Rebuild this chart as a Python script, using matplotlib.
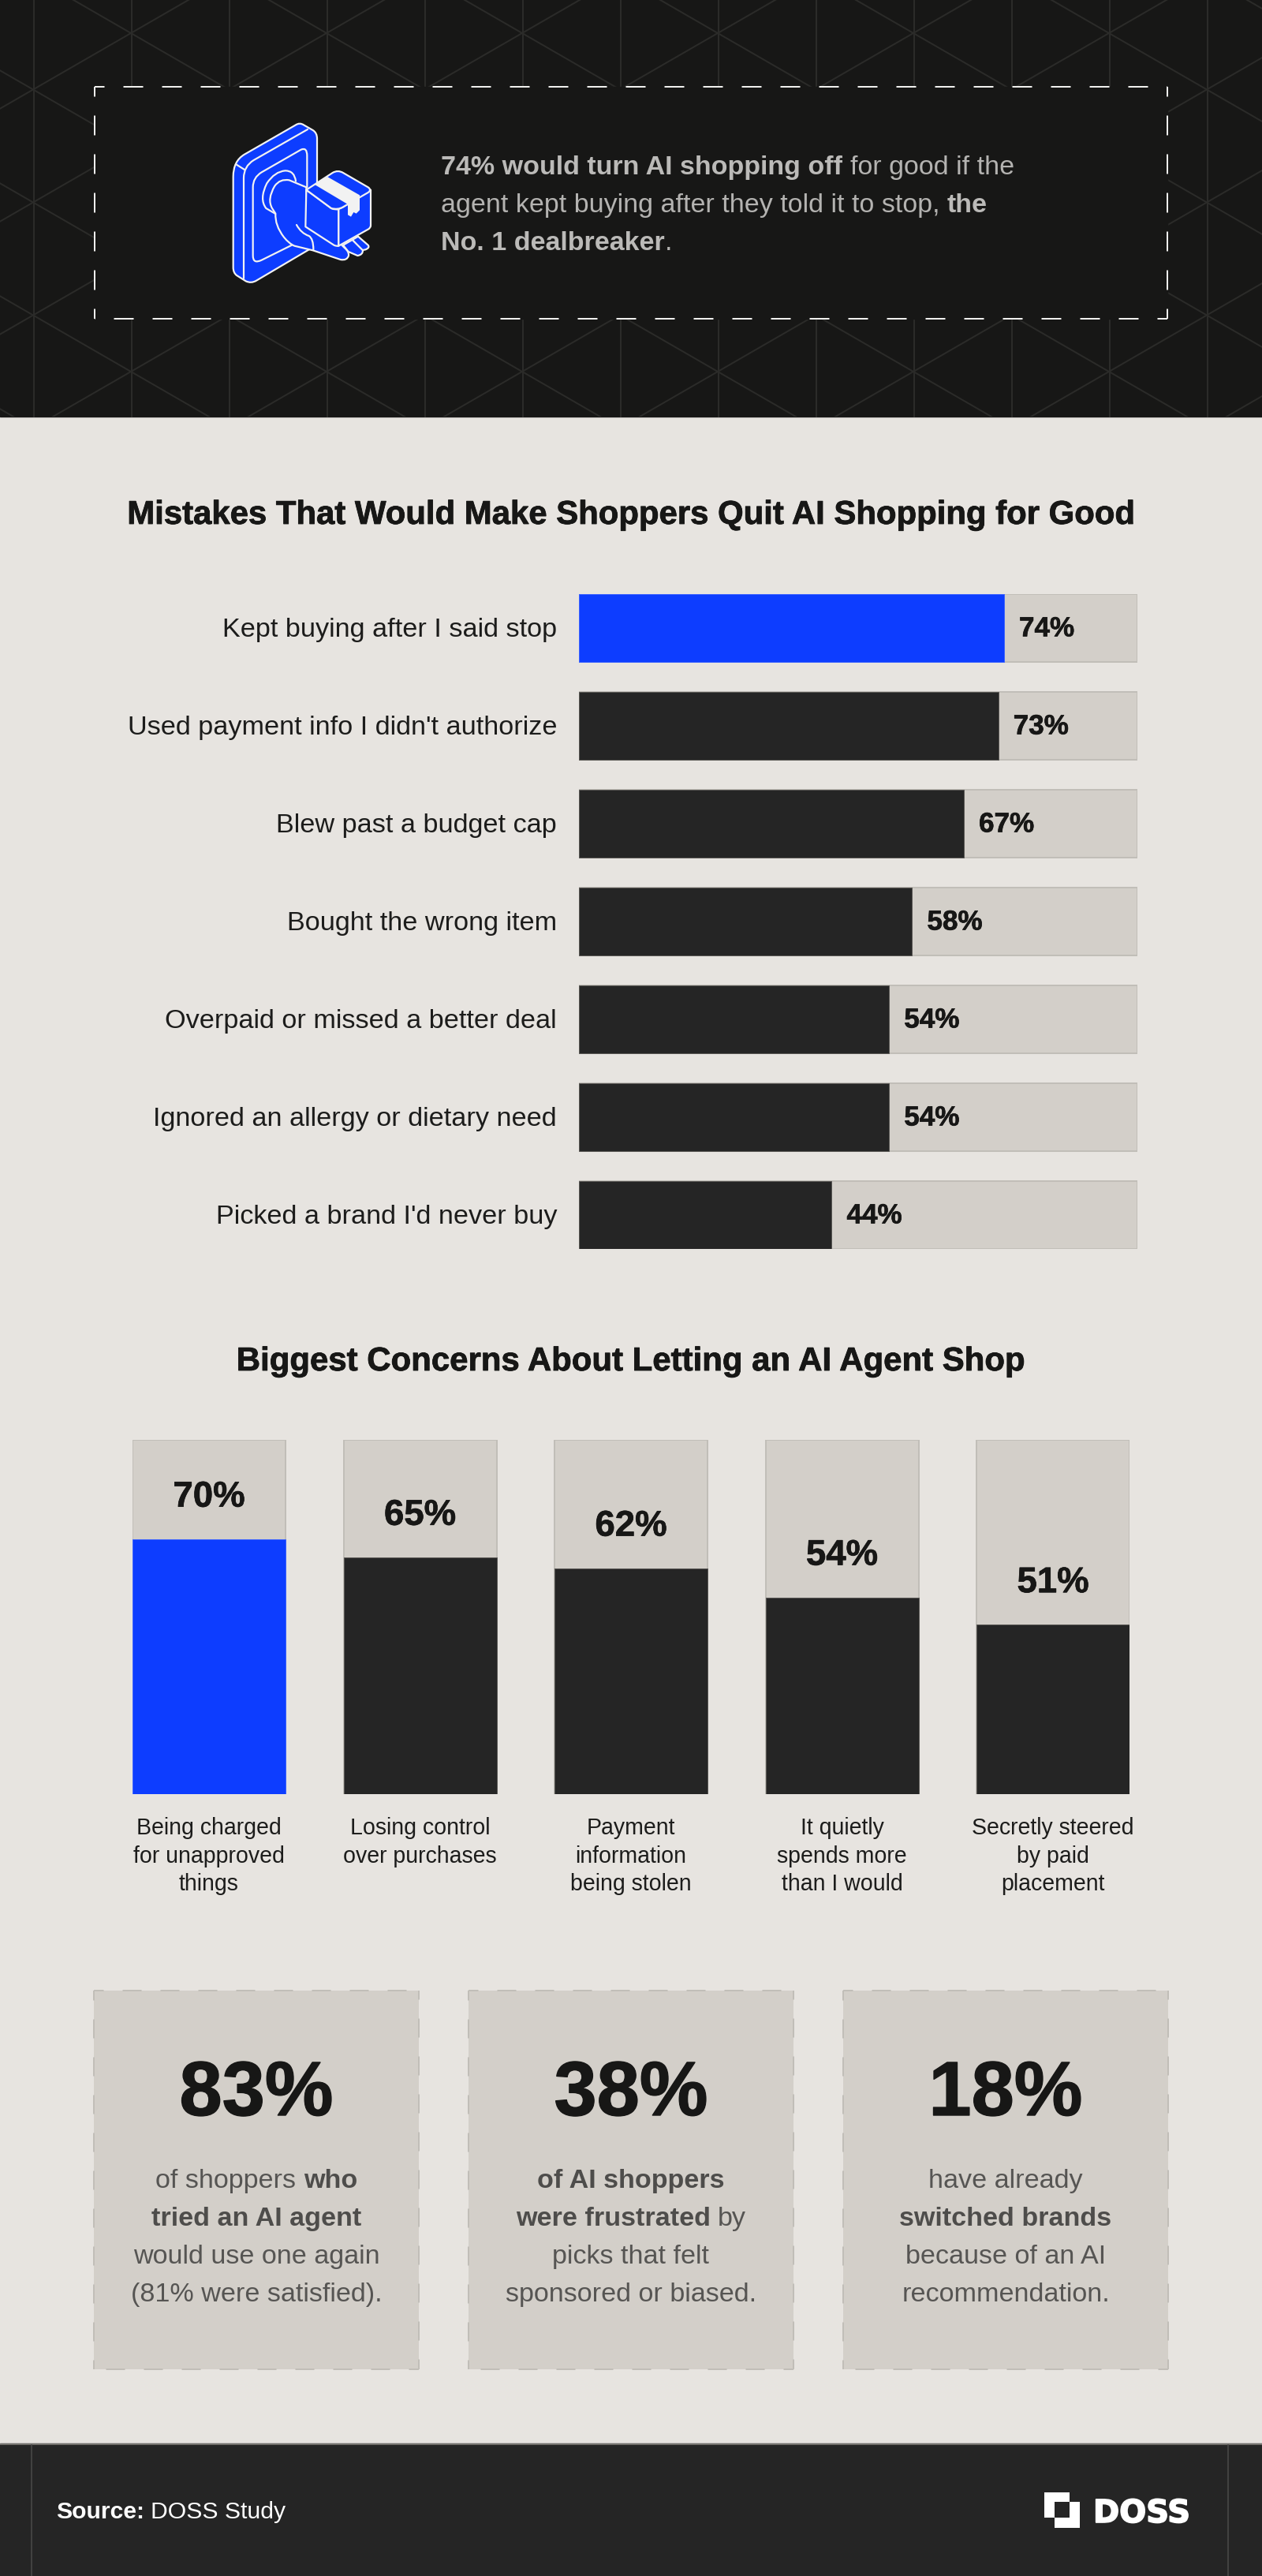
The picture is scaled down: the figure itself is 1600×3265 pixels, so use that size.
import matplotlib
matplotlib.use('Agg')
import matplotlib.pyplot as plt
import matplotlib.patheffects as pe
from matplotlib.path import Path
from matplotlib.patches import PathPatch, Rectangle
from matplotlib.transforms import ScaledTranslation

FONT = 'Liberation Sans'
plt.rcParams['font.family'] = [FONT, 'DejaVu Sans']
plt.rcParams['lines.scale_dashes'] = False

W, H = 1600, 3266
DARK = '#171716'
CHARCOAL = '#252525'
PAGE = '#e7e4e0'
TRACK = '#d3cfc9'
TRACK_EDGE = '#c1beb8'
BLUE = '#0d3dff'
GREY_TEXT = '#565553'

# horizontal chart
mistake_labels = ['Kept buying after I said stop', "Used payment info I didn't authorize",
                  'Blew past a budget cap', 'Bought the wrong item',
                  'Overpaid or missed a better deal', 'Ignored an allergy or dietary need',
                  "Picked a brand I'd never buy"]
mistake_values = [74, 73, 67, 58, 54, 54, 44]

# vertical chart
concern_labels = ['Being charged\nfor unapproved\nthings', 'Losing control\nover purchases',
                  'Payment\ninformation\nbeing stolen', 'It quietly\nspends more\nthan I would',
                  'Secretly steered\nby paid\nplacement']
concern_values = [70, 65, 62, 54, 51]
# the last bar is drawn shorter than its 51% label says on the original
concern_heights = [70, 65, 62, 54, 46.5]

# both tracks run a bit short of 100 on the original
track_max = 97.2

header_lines = [
    [('74% would turn AI shopping off', 'bold'), (' for good if the', 'normal')],
    [('agent kept buying after they told it to stop, ', 'normal'), ('the', 'bold')],
    [('No. 1 dealbreaker', 'bold'), ('.', 'normal')],
]
card_numbers = ['83%', '38%', '18%']
card_lines = [
    [[('of shoppers ', 'normal'), ('who', 'bold')],
     [('tried an AI agent', 'bold')],
     [('would use one again', 'normal')],
     [('(81% were satisfied).', 'normal')]],
    [[('of AI shoppers', 'bold')],
     [('were frustrated', 'bold'), (' by', 'normal')],
     [('picks that felt', 'normal')],
     [('sponsored or biased.', 'normal')]],
    [[('have already', 'normal')],
     [('switched brands', 'bold')],
     [('because of an AI', 'normal')],
     [('recommendation.', 'normal')]],
]

fig = plt.figure(figsize=(W / 100, H / 100), dpi=100, facecolor=PAGE)
renderer = fig.canvas.get_renderer()

bg = fig.add_axes([0, 0, 1, 1])
bg.set_xlim(0, W)
bg.set_ylim(H, 0)
bg.axis('off')


def pt(px):
    return px * 0.72


def run_width(s, size, weight):
    # x on both sides so spaces at the ends get counted
    t = fig.text(0, 0, 'x' + s + 'x', fontsize=size, fontweight=weight)
    w = t.get_window_extent(renderer).width
    t.set_text('xx')
    w -= t.get_window_extent(renderer).width
    t.remove()
    return w


def line_width(runs, size):
    return sum(run_width(s, size, weight) for s, weight in runs)


def fit_size(runs, target_px):
    return 30 * target_px / line_width(runs, 30)


def thicken(t, amount, color):
    t.set_path_effects([pe.withStroke(linewidth=amount, foreground=color)])


def draw_runs(runs, x, y, size, color, bold_color=None, center=False, heavy=0):
    if center:
        x -= line_width(runs, size) / 2
    for s, weight in runs:
        c = bold_color if (bold_color and weight == 'bold') else color
        t = bg.text(x + run_width(s[:len(s) - len(s.lstrip())], size, weight), y, s.strip(),
                    fontsize=size, fontweight=weight, color=c, va='baseline', ha='left', zorder=6)
        if heavy:
            thicken(t, heavy, c)
        x += run_width(s, size, weight)


def dashed_box(x0, y0, x1, y1, color, lw=2, on=25, off=24, first=12.5, z=5):
    style = (pt(on - first), (pt(on), pt(off)))
    for xs, ys in [((x0, x1), (y0, y0)), ((x1, x0), (y1, y1)),
                   ((x0, x0), (y0, y1)), ((x1, x1), (y1, y0))]:
        bg.plot(xs, ys, color=color, lw=pt(lw), linestyle=style, dash_capstyle='butt', zorder=z)


def icon_shape(d, fill='none', stroke='#f2f2f2', lw=2.2):
    # small svg-like parser, coordinates are from the 3x crop of the icon
    verts, codes = [], []
    toks = d.split()
    i = 0
    conv = lambda a, b: (250 + float(a) / 3, 130 + float(b) / 3)
    while i < len(toks):
        c = toks[i]
        if c == 'M':
            verts.append(conv(toks[i + 1], toks[i + 2]))
            codes.append(Path.MOVETO)
            i += 3
        elif c == 'L':
            verts.append(conv(toks[i + 1], toks[i + 2]))
            codes.append(Path.LINETO)
            i += 3
        elif c == 'Q':
            verts += [conv(toks[i + 1], toks[i + 2]), conv(toks[i + 3], toks[i + 4])]
            codes += [Path.CURVE3, Path.CURVE3]
            i += 5
        else:
            verts.append(verts[0])
            codes.append(Path.CLOSEPOLY)
            i += 1
    bg.add_patch(PathPatch(Path(verts, codes), facecolor=fill, edgecolor=stroke,
                           lw=pt(lw), joinstyle='round', capstyle='round', zorder=4))


# header band with the lattice pattern
header = Rectangle((0, 0), W, 529, color=DARK, zorder=1)
bg.add_patch(header)
line_col = '#2b2b29'
for k in range(13):
    bg.plot([43 + 124 * k] * 2, [0, 529], color=line_col, lw=pt(2), zorder=2)
for k in range(-12, 22):
    for sign in (1, -1):
        y0 = 43 + 143 * k
        ln, = bg.plot([0, W], [y0 + sign * (0 - 166) * 71.5 / 124, y0 + sign * (W - 166) * 71.5 / 124],
                      color=line_col, lw=pt(2), zorder=2)
        ln.set_clip_path(header)
bg.add_patch(Rectangle((120, 111), 1360, 294, color=DARK, zorder=3))
dashed_box(120, 111, 1480, 405, '#f0f0ee', lw=2)

# icon
icon_shape('M 375 88 Q 390 78 405 88 L 440 108 Q 456 118 456 140 L 456 545 L 420 565 L 225 680 '
           'Q 205 692 185 682 L 150 660 Q 137 650 137 630 L 137 285 Q 137 225 180 200 Z', BLUE)
icon_shape('M 420 105 L 215 222 Q 177 245 177 290 L 177 672')
icon_shape('M 148 238 L 180 258')
icon_shape('M 360 545 L 245 602 Q 212 618 212 585 L 212 325 Q 212 288 245 268 L 395 182 '
           'Q 418 172 418 205 L 418 325')
icon_shape('M 375 302 Q 370 262 335 262 Q 295 265 265 310 Q 235 370 262 405 L 296 425')
icon_shape('M 612 512 L 650 545 Q 658 555 640 562 L 625 565 L 590 525 Z', BLUE)
icon_shape('M 590 525 L 630 565 Q 630 582 610 585 L 575 570 L 555 545 Z', BLUE)
icon_shape('M 415 325 L 350 298 Q 315 292 295 320 Q 265 370 285 405 L 298 425 Q 295 470 330 515 '
           'Q 350 540 370 548 L 440 565 L 545 600 Q 570 605 576 585 Q 578 570 560 555 L 540 535 '
           'L 415 470 Z', BLUE)
icon_shape('M 378 468 Q 395 500 425 510 Q 442 520 442 562')
icon_shape('M 415 335 L 412 475 L 520 545 Q 530 550 538 548 L 538 408 Q 525 412 510 405 Z', BLUE)
icon_shape('M 538 408 Q 545 405 555 400 L 660 335 L 660 470 Q 660 480 650 485 L 538 548 Z', BLUE)
icon_shape('M 415 335 L 515 270 Q 535 258 555 270 L 650 325 Q 665 335 650 345 L 555 400 '
           'Q 535 412 510 405 Z', BLUE)
icon_shape('M 447 315 L 495 285 L 618 355 L 618 412 L 605 425 L 595 420 L 585 437 L 573 430 '
           'L 573 390 Z', '#f2f2f2', stroke='none')

size = fit_size(header_lines[0], 727)
for i, runs in enumerate(header_lines):
    draw_runs(runs, 559, 221 + 48 * i, size, '#b4b3b1', '#bbbab8')

# titles
title = [('Mistakes That Would Make Shoppers Quit AI Shopping for Good', 'bold')]
draw_runs(title, 800, 665, fit_size(title, 1278), '#171716', center=True, heavy=0.6)
title = [('Biggest Concerns About Letting an AI Agent Shop', 'bold')]
draw_runs(title, 800, 1738, fit_size(title, 1000), '#171716', center=True, heavy=0.6)

# horizontal bars, 124 px pitch with 86 px thick bars
bar_h = 86 / 124
ax = fig.add_axes([734 / W, 1 - 1584 / H, 708 / W, 830 / H])
ax.patch.set_visible(False)
ypos = list(range(len(mistake_values)))
ax.barh(ypos, [track_max] * len(ypos), height=bar_h, color=TRACK, edgecolor=TRACK_EDGE, lw=pt(2))
ax.barh(ypos, mistake_values, height=bar_h,
        color=[BLUE] + [CHARCOAL] * (len(ypos) - 1),
        edgecolor=['#3b62ff'] + ['#5a5855'] * (len(ypos) - 1), lw=pt(1))
ax.set_xlim(0, track_max)
ax.set_ylim(len(ypos) - 1 + bar_h / 2, -bar_h / 2)
ax.set_xticks([])
ax.set_yticks(ypos)
label_size = fit_size([(mistake_labels[1], 'normal')], 544)
ax.set_yticklabels(mistake_labels, fontsize=label_size, color='#1c1c1b')
ax.tick_params(axis='y', length=0, pad=pt(28))
lift = ScaledTranslation(0, pt(2) / 72, fig.dpi_scale_trans)
for lab in ax.get_yticklabels():
    lab.set_transform(lab.get_transform() + lift)
for v, y in zip(mistake_values, ypos):
    t = ax.annotate(f'{v}%', (v, y), xytext=(pt(19), -pt(10.5)), textcoords='offset points',
                    fontsize=fit_size([('74%', 'bold')], 70), fontweight='bold', color='#171716',
                    va='baseline', ha='left')
    thicken(t, 0.5, '#171716')
for s in ax.spines.values():
    s.set_visible(False)

# vertical bars
bar_w = 194 / 267.5
ax2 = fig.add_axes([168 / W, 1 - 2275 / H, (4 * 267.5 + 194) / W, 449 / H])
ax2.patch.set_visible(False)
xpos = list(range(len(concern_values)))
ax2.bar(xpos, [track_max] * len(xpos), width=bar_w, color=TRACK, edgecolor=TRACK_EDGE, lw=pt(2))
ax2.bar(xpos, concern_heights, width=bar_w,
        color=[BLUE] + [CHARCOAL] * (len(xpos) - 1),
        edgecolor=['#3b62ff'] + ['#5a5855'] * (len(xpos) - 1), lw=pt(1))
ax2.set_ylim(0, track_max)
ax2.set_xlim(-bar_w / 2, len(xpos) - 1 + bar_w / 2)
ax2.set_yticks([])
ax2.set_xticks(xpos)
ax2.set_xticklabels(concern_labels, fontsize=fit_size([('for unapproved', 'normal')], 192),
                    color='#1c1c1b', linespacing=1.35, ma='center')
ax2.tick_params(axis='x', length=0, pad=pt(28))
for v, h, x in zip(concern_values, concern_heights, xpos):
    t = ax2.annotate(f'{v}%', (x, h), xytext=(0, pt(41)), textcoords='offset points',
                     fontsize=fit_size([('70%', 'bold')], 91), fontweight='bold', color='#171716',
                     va='baseline', ha='center')
    thicken(t, 0.5, '#171716')
for s in ax2.spines.values():
    s.set_visible(False)

# stat cards
card_left = [119, 594, 1069]
card_right = [531, 1006, 1481]
big_size = fit_size([('83%', 'bold')], 195)
body_size = fit_size([('would use one again', 'normal')], 313)
for left, right, num, lines in zip(card_left, card_right, card_numbers, card_lines):
    mid = (left + right) / 2
    bg.add_patch(Rectangle((left, 2524), right - left, 480, color=TRACK, zorder=3, lw=0))
    dashed_box(left, 2524, right, 3004, TRACK_EDGE, on=24, off=24)
    draw_runs([(num, 'bold')], mid, 2682, big_size, '#171716', center=True, heavy=1.0)
    for i, runs in enumerate(lines):
        draw_runs(runs, mid, 2773 + 48 * i, body_size, GREY_TEXT, '#4e4d4b', center=True)

# footer
bg.add_patch(Rectangle((0, 3098), W, H - 3098, color=CHARCOAL, zorder=3))
bg.plot([0, W], [3099, 3099], color='#716f6b', lw=pt(2), zorder=4)
for x in (40, 1557):
    bg.plot([x, x], [3100, H], color='#4b4b4a', lw=pt(1.5), zorder=4)
src = [('Source:', 'bold'), (' DOSS Study', 'normal')]
draw_runs(src, 71, 3192, fit_size(src, 291), '#ffffff')

# logo, two offset squares with the overlap knocked out
bg.add_patch(Rectangle((1324, 3160), 32, 32, color='#ffffff', lw=0, zorder=4))
bg.add_patch(Rectangle((1337, 3172), 32, 33, color='#ffffff', lw=0, zorder=4))
bg.add_patch(Rectangle((1337, 3172), 19, 20, color=CHARCOAL, lw=0, zorder=5))
logo = bg.text(1386, 3198, 'DOSS', fontsize=pt(40), family='DejaVu Sans', fontweight='bold',
               color='#ffffff', va='baseline', ha='left', zorder=5)
thicken(logo, 1.2, '#ffffff')

fig.savefig('out.png', dpi=100, facecolor=PAGE)
